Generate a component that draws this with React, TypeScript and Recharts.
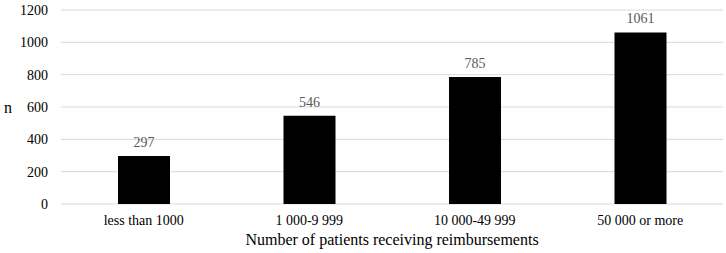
import React from 'react';
import { BarChart, Bar, XAxis, YAxis, CartesianGrid, LabelList, Label } from 'recharts';

const categories = ['less than 1000', '1 000-9 999', '10 000-49 999', '50 000 or more'];
const counts = [297, 546, 785, 1061];
const yTicks = [0, 200, 400, 600, 800, 1000, 1200];

const data = categories.map((name, i) => ({ name, n: counts[i] }));

const font = '"Liberation Serif", "Times New Roman", serif';

export default function App() {
  return (
    <div style={{ width: 726, height: 253, fontFamily: font, background: '#fff' }}>
      <style>{`body{margin:0} svg text{font-family:${font};}`}</style>
      <BarChart
        width={726}
        height={253}
        data={data}
        margin={{ top: 10, right: 3, bottom: 0, left: 0 }}
        barSize={52}
      >
        <CartesianGrid vertical={false} stroke="#d9d9d9" />
        <XAxis
          dataKey="name"
          height={49}
          axisLine={false}
          tickLine={false}
          tickMargin={5}
          tick={{ fill: '#000', fontSize: 14 }}
        >
          <Label
            value="Number of patients receiving reimbursements"
            position="insideBottom"
            offset={8}
            fill="#000"
            fontSize={16}
          />
        </XAxis>
        <YAxis
          width={61}
          domain={[0, 1200]}
          ticks={yTicks}
          axisLine={false}
          tickLine={false}
          tickMargin={7}
          tick={{ fill: '#000', fontSize: 14 }}
        >
          <Label value="n" position="insideLeft" offset={4} fill="#000" fontSize={16} />
        </YAxis>
        <Bar dataKey="n" fill="#000" isAnimationActive={false}>
          <LabelList dataKey="n" position="top" offset={9} fill="#595959" fontSize={14} />
        </Bar>
      </BarChart>
    </div>
  );
}
